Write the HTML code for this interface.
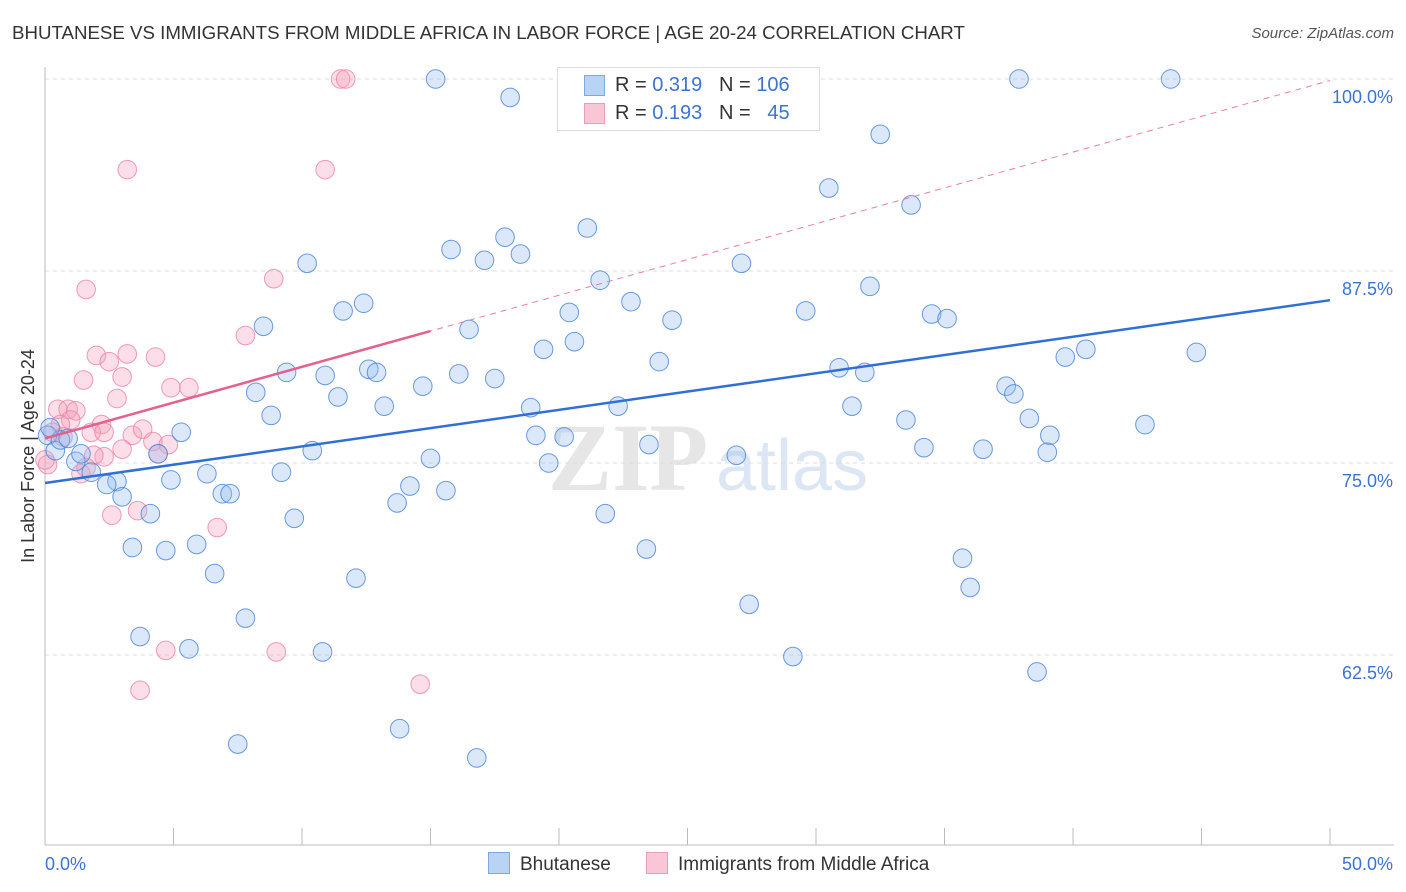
<!DOCTYPE html>
<html><head><meta charset="utf-8">
<style>
body{margin:0;background:#fff;font-family:"Liberation Sans",sans-serif;}
#wrap{position:relative;width:1406px;height:892px;overflow:hidden}
.t{position:absolute;white-space:nowrap}
</style></head>
<body>
<div id="wrap">
<div class="t" style="left:12px;top:22px;font-size:18.7px;color:#333">BHUTANESE VS IMMIGRANTS FROM MIDDLE AFRICA IN LABOR FORCE | AGE 20-24 CORRELATION CHART</div>
<div class="t" style="right:12px;top:25px;font-size:15px;color:#555;font-style:italic">Source: ZipAtlas.com</div>
<svg id="svg" width="1406" height="892" style="position:absolute;left:0;top:0"></svg>
</div>
<script>
const xTicks=[0,5,10,15,20,25,30,35,40,45,50];
const yTicks=[62.5,75,87.5,100];
const yTickLabels=["62.5%","75.0%","87.5%","100.0%"];
const blueX=[15.2,18.1,37.9,43.8,32.5,30.5,33.7,21.1,17.9,15.8,18.5,17.1,10.2,27.1,21.6,32.1,22.8,12.4,11.6,29.6,20.4,24.4,34.5,35.1,16.5,8.5,20.6,19.4,40.5,39.7,44.8,23.9,30.9,31.9,9.4,12.6,12.9,10.9,16.1,17.5,14.7,37.4,37.7,8.2,11.4,13.2,18.9,31.4,22.3,8.8,38.3,33.5,42.8,5.3,19.1,39.1,10.4,20.2,23.5,34.2,36.5,39.0,26.9,15.0,4.4,19.6,6.3,9.2,4.9,2.8,1.8,2.4,14.2,6.9,7.2,3.0,13.7,15.6,4.1,9.7,21.8,3.4,4.7,5.9,23.4,35.7,6.6,12.1,36.0,27.4,7.8,3.7,5.6,10.8,29.1,38.6,13.8,7.5,16.8,0.1,0.4,0.6,0.9,1.2,1.4,0.2];
const blueY=[100,98.8,100,100,96.4,92.9,91.8,90.3,89.7,88.9,88.6,88.2,88.0,88.0,86.9,86.5,85.5,85.4,84.9,84.9,84.8,84.3,84.7,84.4,83.7,83.9,82.9,82.4,82.4,81.9,82.2,81.6,81.2,80.9,80.9,81.1,80.9,80.7,80.8,80.5,80.0,80.0,79.5,79.6,79.3,78.7,78.6,78.7,78.7,78.1,77.9,77.8,77.5,77.0,76.8,76.8,75.8,76.7,76.2,76.0,75.9,75.7,75.5,75.3,75.6,75.0,74.3,74.4,73.9,73.8,74.4,73.6,73.5,73.0,73.0,72.8,72.4,73.2,71.7,71.4,71.7,69.5,69.3,69.7,69.4,68.8,67.8,67.5,66.9,65.8,64.9,63.7,62.9,62.7,62.4,61.4,57.7,56.7,55.8,76.8,75.8,76.5,76.6,75.1,75.6,77.3];
const pinkX=[11.5,11.7,3.2,10.9,8.9,1.6,7.8,2.0,3.2,4.3,2.5,1.5,3.0,4.9,5.6,2.8,0.5,0.9,1.2,1.0,0.6,2.2,1.8,3.4,3.8,2.3,4.2,4.8,3.0,4.4,2.3,1.9,1.4,1.6,2.6,3.6,6.7,4.7,9.0,14.6,3.7,0.1,0.3,0.7,0.0];
const pinkY=[100,100,94.1,94.1,87.0,86.3,83.3,82.0,82.1,81.9,81.6,80.4,80.6,79.9,79.9,79.2,78.5,78.5,78.4,77.8,77.5,77.5,77.0,76.8,77.2,77.0,76.4,76.2,75.9,75.6,75.4,75.5,74.3,74.7,71.6,71.9,70.8,62.8,62.7,60.6,60.2,74.9,77.0,76.7,75.2];
const blueTrend=[73.7,85.6];
const pinkTrend=[76.6,99.9];
const pinkSolidEnd=15;

const X=v=>45+v*25.7, Y=v=>79+(100-v)*15.36;
const svg=document.getElementById('svg');
const NS='http://www.w3.org/2000/svg';
function mk(tag,attrs,parent){const e=document.createElementNS(NS,tag);for(const k in attrs)e.setAttribute(k,attrs[k]);(parent||svg).appendChild(e);return e;}

const wm=mk('text',{x:548,y:490,'font-size':96,'font-family':'Liberation Serif, serif',fill:'#e6e6e6','font-weight':'bold'});
wm.textContent='ZIP';


const wm2=mk('text',{x:716,y:490,'font-size':72,'font-family':'Liberation Sans, sans-serif',fill:'#dce6f5'});
wm2.textContent='atlas';



yTicks.forEach((v,i)=>{
  const g=mk('line',{x1:45,x2:1394,y1:Y(v),y2:Y(v),stroke:'#dcdcdc','stroke-dasharray':'4,4'});
  
  
  const t=mk('text',{x:1393,y:Y(v)+24,'text-anchor':'end','font-size':18,fill:'#3b73d4'});
  t.textContent=yTickLabels[i];
  
  
});
const ax=mk('line',{x1:45,x2:45,y1:67,y2:845,stroke:'#bbb'});


const bx=mk('line',{x1:45,x2:1394,y1:845,y2:845,stroke:'#bbb'});


xTicks.forEach(v=>{
  const t=mk('line',{x1:X(v),x2:X(v),y1:828,y2:845,stroke:'#bbb'});
  
  
});
const xl0=mk('text',{x:45,y:870,'font-size':18,fill:'#3b73d4'});xl0.textContent=xTicks[0].toFixed(1)+'%';


const xl1=mk('text',{x:1393,y:870,'text-anchor':'end','font-size':18,fill:'#3b73d4'});xl1.textContent=xTicks[xTicks.length-1].toFixed(1)+'%';


const yt=mk('text',{x:34,y:456,'font-size':18,fill:'#333','text-anchor':'middle',transform:'rotate(-90 34 456)'});
yt.textContent='In Labor Force | Age 20-24';



pinkX.forEach((v,i)=>{
  const c=mk('circle',{cx:X(v),cy:Y(pinkY[i]),r:9.3,fill:'rgba(244,160,186,0.35)',stroke:'rgba(236,130,165,0.8)','stroke-width':1});
  
  
});
blueX.forEach((v,i)=>{
  const c=mk('circle',{cx:X(v),cy:Y(blueY[i]),r:9.3,fill:'rgba(150,190,240,0.35)',stroke:'rgba(70,130,220,0.8)','stroke-width':1});
  
  
});
const pd=mk('line',{x1:X(0),y1:Y(pinkTrend[0]),x2:X(50),y2:Y(pinkTrend[1]),stroke:'#e87fa0','stroke-width':1,'stroke-dasharray':'6,5'});


const pe=pinkTrend[0]+(pinkTrend[1]-pinkTrend[0])*pinkSolidEnd/50;
const ps=mk('line',{x1:X(0),y1:Y(pinkTrend[0]),x2:X(pinkSolidEnd),y2:Y(pe),stroke:'#e4608e','stroke-width':2.5});


const bl=mk('line',{x1:X(0),y1:Y(blueTrend[0]),x2:X(50),y2:Y(blueTrend[1]),stroke:'#2f6fd6','stroke-width':2.5});


</script>

<div class="t" style="left:557px;top:67px;width:261px;height:62px;border:1px solid #ddd;background:rgba(255,255,255,0.9)"></div>
<div class="t" style="left:584px;top:75px;width:19px;height:19px;background:#b9d3f5;border:1px solid #7ba7e6"></div>
<div class="t" style="left:615px;top:74px;font-size:20px;color:#333">R = <span style="color:#3b73d4">0.319</span>&nbsp;&nbsp;&nbsp;N = <span style="color:#3b73d4">106</span></div>
<div class="t" style="left:584px;top:103px;width:19px;height:19px;background:#f9c6d5;border:1px solid #ec9cb5"></div>
<div class="t" style="left:615px;top:102px;font-size:20px;color:#333">R = <span style="color:#3b73d4">0.193</span>&nbsp;&nbsp;&nbsp;N = &nbsp;&nbsp;<span style="color:#3b73d4">45</span></div>

<div class="t" style="left:488px;top:852px;font-size:19px;color:#333"><span style="display:inline-block;width:20px;height:20px;background:#b9d3f5;border:1px solid #7ba7e6;vertical-align:-4px;margin-right:10px"></span>Bhutanese</div>
<div class="t" style="left:646px;top:852px;font-size:19px;color:#333"><span style="display:inline-block;width:20px;height:20px;background:#f9c6d5;border:1px solid #ec9cb5;vertical-align:-4px;margin-right:10px"></span>Immigrants from Middle Africa</div>
</body></html>
